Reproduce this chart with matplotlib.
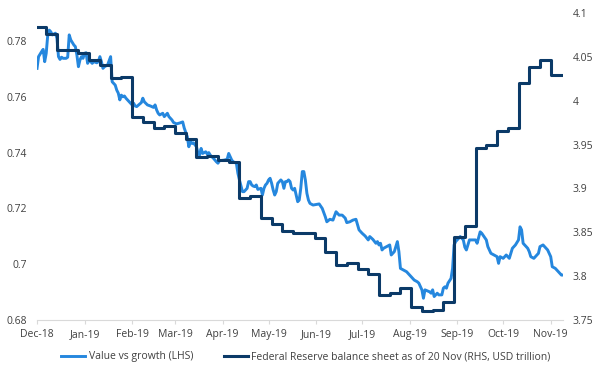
import matplotlib
matplotlib.use("Agg")
import matplotlib.pyplot as plt
import matplotlib.dates as mdates
import pandas as pd
from matplotlib.ticker import FuncFormatter

plt.rcParams['font.family'] = ['Open Sans', 'DejaVu Sans']

# ---- data ----
start_date = "2018-12-01"
# Value vs growth (LHS): days since 2018-12-01, value
vg_days = [0, 1, 3, 4, 5, 6, 7, 8, 9, 10, 12, 13, 14, 15, 16, 17, 19, 20, 21, 22,
           24, 25, 26, 27, 28, 29, 30, 31, 32, 33, 34, 36, 37, 39, 40, 41, 42, 43, 44, 46,
           48, 49, 50, 51, 52, 53, 54, 55, 56, 57, 58, 59, 61, 62, 63, 64, 65, 68, 69, 70,
           72, 74, 76, 77, 78, 79, 80, 82, 83, 85, 86, 87, 88, 89, 91, 93, 95, 96, 98, 99,
           100, 101, 102, 104, 105, 106, 107, 108, 110, 111, 112, 113, 114, 115, 117, 118, 119, 122, 124, 125,
           126, 127, 128, 130, 131, 132, 134, 135, 136, 137, 138, 139, 140, 141, 142, 143, 144, 146, 147, 148,
           149, 150, 151, 152, 153, 154, 155, 156, 157, 159, 160, 161, 162, 163, 164, 165, 166, 167, 168, 170,
           171, 172, 173, 174, 175, 176, 177, 178, 180, 184, 186, 188, 189, 191, 193, 195, 197, 199, 201, 202,
           204, 206, 208, 210, 212, 214, 216, 217, 219, 221, 222, 223, 224, 225, 226, 228, 230, 231, 233, 234,
           235, 236, 237, 239, 241, 244, 246, 248, 249, 251, 252, 253, 256, 257, 258, 259, 261, 262, 264, 265,
           266, 267, 268, 270, 271, 272, 273, 274, 275, 276, 278, 279, 280, 282, 284, 286, 287, 289, 290, 293,
           294, 296, 298, 300, 301, 302, 304, 306, 307, 308, 310, 312, 314, 315, 316, 317, 319, 320, 321, 322,
           324, 325, 327, 328, 330, 331, 333, 335, 336, 338, 339, 340, 342, 343]
vg_vals = [0.7702, 0.7744, 0.7762, 0.7770, 0.7726, 0.7756, 0.7822, 0.7839, 0.7833, 0.7822,
           0.7828, 0.7810, 0.7744, 0.7734, 0.7742, 0.7738, 0.7738, 0.7742, 0.7822, 0.7804,
           0.7786, 0.7780, 0.7750, 0.7708, 0.7732, 0.7744, 0.7738, 0.7756, 0.7758, 0.7720,
           0.7732, 0.7720, 0.7726, 0.7722, 0.7726, 0.7744, 0.7726, 0.7702, 0.7708, 0.7714,
           0.7744, 0.7654, 0.7648, 0.7642, 0.7624, 0.7613, 0.7589, 0.7606, 0.7600, 0.7603,
           0.7595, 0.7589, 0.7577, 0.7571, 0.7577, 0.7567, 0.7565, 0.7579, 0.7595, 0.7582,
           0.7571, 0.7567, 0.7562, 0.7571, 0.7553, 0.7541, 0.7535, 0.7541, 0.7529, 0.7541,
           0.7529, 0.7523, 0.7517, 0.7508, 0.7503, 0.7506, 0.7510, 0.7488, 0.7457, 0.7421,
           0.7439, 0.7433, 0.7435, 0.7421, 0.7397, 0.7391, 0.7415, 0.7397, 0.7403, 0.7395,
           0.7400, 0.7391, 0.7385, 0.7380, 0.7367, 0.7362, 0.7371, 0.7373, 0.7376, 0.7397,
           0.7385, 0.7373, 0.7367, 0.7362, 0.7326, 0.7302, 0.7260, 0.7260, 0.7266, 0.7272,
           0.7296, 0.7296, 0.7284, 0.7280, 0.7278, 0.7284, 0.7268, 0.7272, 0.7248, 0.7272,
           0.7284, 0.7290, 0.7302, 0.7308, 0.7290, 0.7266, 0.7248, 0.7260, 0.7290, 0.7302,
           0.7296, 0.7272, 0.7296, 0.7296, 0.7302, 0.7296, 0.7272, 0.7266, 0.7272, 0.7224,
           0.7230, 0.7272, 0.7332, 0.7332, 0.7302, 0.7254, 0.7230, 0.7218, 0.7212, 0.7216,
           0.7200, 0.7170, 0.7152, 0.7161, 0.7158, 0.7188, 0.7176, 0.7176, 0.7165, 0.7149,
           0.7152, 0.7158, 0.7161, 0.7123, 0.7111, 0.7101, 0.7087, 0.7099, 0.7089, 0.7075,
           0.7081, 0.7069, 0.7075, 0.7051, 0.7057, 0.7063, 0.7069, 0.7033, 0.7045, 0.7063,
           0.7081, 0.7045, 0.6985, 0.6979, 0.6973, 0.6955, 0.6943, 0.6937, 0.6932, 0.6908,
           0.6878, 0.6908, 0.6901, 0.6896, 0.6908, 0.6884, 0.6896, 0.6890, 0.6890, 0.6914,
           0.6919, 0.6914, 0.6932, 0.6949, 0.6985, 0.7069, 0.7081, 0.7087, 0.7093, 0.7099,
           0.7087, 0.7061, 0.7051, 0.7087, 0.7087, 0.7087, 0.7075, 0.7116, 0.7111, 0.7087,
           0.7063, 0.7039, 0.7033, 0.7027, 0.7003, 0.7027, 0.7021, 0.7033, 0.7027, 0.7021,
           0.7057, 0.7069, 0.7087, 0.7134, 0.7123, 0.7075, 0.7063, 0.7057, 0.7045, 0.7027,
           0.7021, 0.7027, 0.7039, 0.7063, 0.7069, 0.7063, 0.7051, 0.7027, 0.6991, 0.6985,
           0.6979, 0.6973, 0.6961, 0.6961]

# Federal Reserve balance sheet (RHS, USD trillion), weekly steps
fed_days = [0] + [6 + 7 * k for k in range(48)] + [343]
fed_vals = [4.084, 4.076, 4.058, 4.058, 4.054, 4.047, 4.041, 4.026, 4.027, 3.982,
            3.976, 3.969, 3.971, 3.963, 3.956, 3.936, 3.937, 3.932, 3.930, 3.889,
            3.891, 3.866, 3.860, 3.851, 3.849, 3.849, 3.843, 3.828, 3.813, 3.815,
            3.808, 3.802, 3.779, 3.781, 3.786, 3.765, 3.760, 3.761, 3.770, 3.845,
            3.857, 3.946, 3.950, 3.966, 3.969, 4.020, 4.038, 4.047, 4.029, 4.029]

left_ticks = [0.68, 0.70, 0.72, 0.74, 0.76, 0.78]
right_ticks = [3.75, 3.8, 3.85, 3.9, 3.95, 4.0, 4.05, 4.1]
month_ticks = pd.date_range("2018-12-01", "2019-11-01", freq="MS")

label_vg = "Value vs growth (LHS)"
label_fed = "Federal Reserve balance sheet as of 20 Nov (RHS, USD trillion)"

c_light = "#2587de"
c_dark = "#0b3a68"
txt = "#404040"

t0 = pd.Timestamp(start_date)
vg_dates = [t0 + pd.Timedelta(days=d) for d in vg_days]
fed_dates = [t0 + pd.Timedelta(days=d) for d in fed_days]

fig = plt.figure(figsize=(6, 3.75), dpi=100)
ax = fig.add_axes([0.0617, 0.1467, 0.8766, 0.8183])
ax2 = ax.twinx()

l1, = ax.plot(vg_dates, vg_vals, color=c_light, lw=2.1, label=label_vg,
              solid_joinstyle="round")
l2, = ax2.plot(fed_dates, fed_vals, color=c_dark, lw=2.2, drawstyle="steps-post",
               label=label_fed)

ax.set_xlim(t0, pd.Timestamp("2019-11-09"))
ax.set_ylim(0.68, 0.79)
ax2.set_ylim(3.75, 4.1)

ax.set_yticks(left_ticks)
ax2.set_yticks(right_ticks)
fmt = FuncFormatter(lambda v, p: f"{v:g}")
ax.yaxis.set_major_formatter(fmt)
ax2.yaxis.set_major_formatter(fmt)

ax.set_xticks(month_ticks)
ax.xaxis.set_major_formatter(mdates.DateFormatter("%b-%y"))

for a in (ax, ax2):
    for s in a.spines.values():
        s.set_visible(False)
ax.spines["bottom"].set_visible(True)
ax.spines["bottom"].set_color("#d9d9d9")
ax.spines["bottom"].set_linewidth(0.8)

ax.tick_params(axis="x", length=3, width=0.8, color="#d9d9d9", labelsize=7.5,
               labelcolor=txt, pad=3.5)
ax.tick_params(axis="y", length=0, labelsize=7.5, labelcolor=txt, pad=7)
ax2.tick_params(axis="y", length=0, labelsize=7.5, labelcolor=txt, pad=7)

fig.legend([l1, l2], [label_vg, label_fed], loc="center", ncol=2,
           bbox_to_anchor=(0.51, 0.048), frameon=False, fontsize=7.5,
           handlelength=2.3, handletextpad=0.3, columnspacing=3.0,
           labelcolor=txt)

fig.savefig("out.png", dpi=100)
